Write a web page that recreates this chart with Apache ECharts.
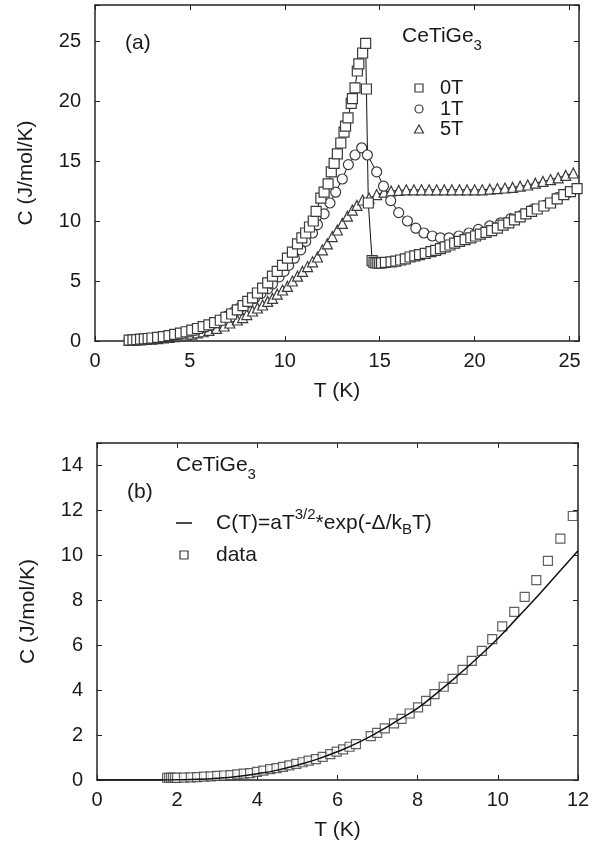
<!DOCTYPE html>
<html>
<head>
<meta charset="utf-8">
<script src="https://cdn.jsdelivr.net/npm/echarts@6/dist/echarts.min.js"></script>
<style>
  html, body { margin: 0; padding: 0; background: #fff; }
  #chart { width: 596px; height: 847px; }
</style>
</head>
<body>
<div id="chart"></div>
<script>
// ---- panel (a): C(T) at 0T / 1T / 5T ----
var t0T = [1.8, 2.0, 2.2, 2.4, 2.6, 2.8, 3.0, 3.3, 3.6, 3.9, 4.2, 4.5, 4.8, 5.1, 5.4, 5.7, 6.0, 6.3, 6.6, 6.9,
  7.2, 7.5, 7.8, 8.05, 8.3, 8.56, 8.83, 9.1, 9.35, 9.6, 9.88, 10.14, 10.4, 10.67, 10.9, 11.1, 11.3, 11.5, 11.65,
  11.9, 12.07, 12.28, 12.45, 12.6, 12.77, 12.95, 13.12, 13.2, 13.33, 13.5, 13.56, 13.7, 13.82, 13.9, 14.1, 14.26,
  14.3, 14.4, 14.6, 14.7, 14.8, 14.9, 15.0, 15.1, 15.3, 15.6, 15.85, 16.1, 16.35, 16.6, 16.85, 17.1, 17.4, 17.7,
  17.95, 18.2, 18.45, 18.7, 18.95, 19.2, 19.5, 19.8, 20.05, 20.3, 20.6, 20.9, 21.2, 21.5, 21.8, 22.1, 22.4, 22.7,
  23.0, 23.3, 23.65, 24.0, 24.35, 24.7, 25.05, 25.4];
var c0T = [0.08, 0.1, 0.12, 0.15, 0.18, 0.21, 0.25, 0.3, 0.37, 0.45, 0.55, 0.65, 0.77, 0.9, 1.04, 1.19, 1.35, 1.53,
  1.73, 1.98, 2.25, 2.6, 2.95, 3.3, 3.6, 4.0, 4.4, 4.85, 5.4, 5.8, 6.3, 6.9, 7.4, 8.1, 8.6, 9.0, 9.5, 10.0, 10.8,
  11.9, 12.4, 13.1, 14.1, 14.8, 15.6, 16.5, 17.4, 17.9, 18.6, 19.8, 20.2, 21.1, 22.5, 23.1, 24.0, 24.8,
  21.0, 11.5, 6.7, 6.55, 6.5, 6.5, 6.5, 6.5, 6.55, 6.6, 6.65, 6.75, 6.85, 7.0, 7.1, 7.2, 7.3, 7.45,
  7.55, 7.7, 7.85, 8.0, 8.15, 8.3, 8.45, 8.6, 8.75, 8.9, 9.05, 9.2, 9.4, 9.65, 9.85, 10.1, 10.35, 10.6,
  10.8, 11.0, 11.25, 11.5, 11.85, 12.2, 12.45, 12.7];

var t1T = [1.8, 2.1, 2.4, 2.7, 3.0, 3.3, 3.6, 3.9, 4.2, 4.5, 4.8, 5.1, 5.4, 5.7, 6.0, 6.3, 6.6, 6.9, 7.3, 7.65,
  8.0, 8.4, 8.74, 9.1, 9.35, 9.7, 9.96, 10.2, 10.5, 10.84, 11.1, 11.46, 11.72, 12.07, 12.38, 12.68, 13.03, 13.35,
  13.7, 14.05, 14.35, 14.84, 15.2, 15.58, 16.0, 16.46, 16.9, 17.33, 17.77, 18.2, 18.65, 19.17, 19.7, 20.2, 20.8,
  21.37, 21.9, 22.5, 23.1, 23.7, 24.35, 24.96];
var c1T = [0.07, 0.1, 0.13, 0.17, 0.22, 0.28, 0.34, 0.42, 0.5, 0.6, 0.72, 0.85, 0.99, 1.14, 1.3, 1.5, 1.75, 2.05,
  2.4, 2.8, 3.15, 3.55, 3.95, 4.35, 4.75, 5.35, 5.8, 6.3, 6.9, 7.6, 8.3, 9.0, 9.7, 10.6, 11.5, 12.4, 13.5, 14.7,
  15.5, 16.1, 15.5, 14.1, 12.9, 11.7, 10.7, 10.0, 9.4, 9.0, 8.75, 8.6, 8.6, 8.75, 9.0, 9.3, 9.6,
  9.85, 10.2, 10.5, 11.0, 11.3, 11.95, 12.4];

var t5T = [1.8, 2.1, 2.4, 2.7, 3.0, 3.3, 3.6, 3.9, 4.2, 4.5, 4.8, 5.1, 5.4, 5.7, 6.0, 6.4, 6.8, 7.1, 7.5, 7.78,
  8.0, 8.3, 8.56, 8.83, 9.1, 9.35, 9.6, 9.88, 10.14, 10.4, 10.67, 10.93, 11.2, 11.46, 11.72, 11.98, 12.24, 12.5,
  12.77, 13.03, 13.3, 13.56, 13.8, 14.1, 14.44, 14.84, 15.23, 15.6, 16.0, 16.4, 16.8, 17.2, 17.6, 18.0, 18.4,
  18.8, 19.2, 19.6, 20.0, 20.4, 20.8, 21.2, 21.6, 22.0, 22.4, 22.8, 23.2, 23.6, 24.0, 24.4, 24.8, 25.2];
var c5T = [0.05, 0.07, 0.1, 0.13, 0.16, 0.2, 0.25, 0.3, 0.36, 0.43, 0.5, 0.58, 0.67, 0.77, 0.88, 1.05, 1.25, 1.5,
  1.75, 1.95, 2.2, 2.5, 2.75, 3.0, 3.3, 3.55, 3.9, 4.25, 4.55, 5.0, 5.4, 5.8, 6.2, 6.6, 7.0, 7.6, 8.1, 8.7,
  9.25, 9.8, 10.4, 10.9, 11.3, 11.75, 11.9, 12.2, 12.4, 12.5, 12.55, 12.6, 12.6, 12.6, 12.6, 12.6, 12.6,
  12.6, 12.6, 12.6, 12.6, 12.6, 12.65, 12.7, 12.75, 12.8, 12.9, 13.0, 13.15, 13.3, 13.45, 13.6, 13.8, 14.0];

// ---- panel (b): low-T data and the gap fit ----
var tData = [1.75, 1.8, 1.85, 1.9, 1.95, 2.0, 2.17, 2.34, 2.5, 2.67, 2.84, 3.0, 3.17, 3.33, 3.5, 3.66, 3.82, 3.99,
  4.15, 4.32, 4.48, 4.64, 4.8, 4.97, 5.13, 5.28, 5.46, 5.63, 5.82, 5.98, 6.14, 6.3, 6.46, 6.83, 6.99, 7.18, 7.41,
  7.6, 7.8, 8.01, 8.21, 8.42, 8.65, 8.87, 9.12, 9.35, 9.6, 9.86, 10.11, 10.41, 10.67, 10.96, 11.25, 11.56, 11.87];
var cData = [0.1, 0.1, 0.1, 0.1, 0.1, 0.1, 0.11, 0.12, 0.13, 0.15, 0.16, 0.18, 0.2, 0.22, 0.25, 0.28, 0.31, 0.36,
  0.42, 0.48, 0.53, 0.58, 0.65, 0.72, 0.79, 0.86, 0.93, 1.03, 1.15, 1.26, 1.36, 1.48, 1.6, 1.95, 2.1, 2.3, 2.52,
  2.72, 2.96, 3.23, 3.52, 3.82, 4.15, 4.5, 4.9, 5.3, 5.75, 6.27, 6.84, 7.48, 8.15, 8.9, 9.75, 10.74, 11.75];

var tFit = [0, 0.5, 1.5, 2.0, 2.5, 3.0, 3.5, 4.0, 4.5, 5.0, 5.5, 6.0, 6.5, 7.0, 7.5, 8.0, 8.5, 9.0, 9.5, 10.0,
  10.5, 11.0, 11.5, 12.0];
var cFit = [0, 0, 0, 0.01, 0.03, 0.08, 0.16, 0.28, 0.44, 0.66, 0.93, 1.26, 1.65, 2.12, 2.65, 3.2, 3.9, 4.65, 5.45,
  6.3, 7.25, 8.2, 9.2, 10.2];

var FONT = '"Liberation Sans", Arial, Helvetica, sans-serif';
var INK = '#1a1a1a';
var EDGE = '#3a3a3a';

function pairs(xs, ys) {
  return xs.map(function (x, i) { return [x, ys[i]]; });
}

// text with sub/superscripts: runs = [text, size, dy]
function runText(x, y, runs) {
  var ctx = document.createElement('canvas').getContext('2d');
  var out = [];
  runs.forEach(function (r) {
    ctx.font = r[1] + 'px ' + FONT;
    out.push({
      type: 'text', x: x, y: y + r[2], silent: true,
      style: { text: r[0], fontSize: r[1], fontFamily: FONT, fill: INK, align: 'left', verticalAlign: 'middle' }
    });
    x += ctx.measureText(r[0]).width;
  });
  return out;
}

function xAx(grid, max, step, pos) {
  var top = pos === 'top';
  return {
    type: 'value', gridIndex: grid, min: 0, max: max, interval: step, position: pos,
    name: top ? '' : 'T (K)', nameLocation: 'middle', nameGap: 40,
    nameTextStyle: { fontSize: 21, fontFamily: FONT, color: INK },
    axisLine: { onZero: false, lineStyle: { color: '#222', width: 1.5 } },
    axisTick: { show: true, inside: true, length: 5, lineStyle: { color: '#222', width: 1 } },
    axisLabel: {
      show: !top, margin: 10, fontSize: 20, fontFamily: FONT, color: INK,
      formatter: function (v) { return v % step === 0 ? String(v) : ''; }
    },
    splitLine: { show: false }
  };
}

function yAx(grid, max, step, pos) {
  var right = pos === 'right';
  return {
    type: 'value', gridIndex: grid, min: 0, max: max, interval: step, position: pos,
    name: right ? '' : 'C (J/mol/K)', nameLocation: 'middle', nameGap: 58, nameRotate: 90,
    nameTextStyle: { fontSize: 21, fontFamily: FONT, color: INK },
    axisLine: { onZero: false, lineStyle: { color: '#222', width: 1.5 } },
    axisTick: { show: true, inside: true, length: 5, lineStyle: { color: '#222', width: 1 } },
    axisLabel: {
      show: !right, margin: 14, fontSize: 20, fontFamily: FONT, color: INK,
      formatter: function (v) { return v % step === 0 ? String(v) : ''; }
    },
    splitLine: { show: false }
  };
}

function markerSeries(name, sym, size, data, xi, yi, withLine) {
  return {
    name: name, type: withLine ? 'line' : 'scatter', data: data,
    xAxisIndex: xi, yAxisIndex: yi,
    symbol: sym, symbolSize: size, showSymbol: true, animation: false,
    itemStyle: { color: '#fff', borderColor: EDGE, borderWidth: 1.2 },
    lineStyle: { color: '#111', width: 1 },
    emphasis: { disabled: true }
  };
}

var graphics = []
  .concat(runText(125, 43, [['(a)', 21, 0]]))
  .concat(runText(402, 36, [['CeTiGe', 21, 0], ['3', 15, 10]]))
  .concat(runText(440, 88, [['0T', 20, 0]]))
  .concat(runText(440, 109, [['1T', 20, 0]]))
  .concat(runText(440, 129, [['5T', 20, 0]]))
  .concat(runText(176, 465, [['CeTiGe', 21, 0], ['3', 15, 10]]))
  .concat(runText(127, 492, [['(b)', 21, 0]]))
  .concat(runText(216, 523, [['C(T)=aT', 21, 0], ['3/2', 15, -8], ['*exp(-\u0394/k', 21, 0], ['B', 15, 7], ['T)', 21, 0]]))
  .concat(runText(216, 555, [['data', 21, 0]]));

// legend keys
var keyStyle = { fill: '#fff', stroke: EDGE, lineWidth: 1.2 };
graphics.push(
  { type: 'rect', shape: { x: 415, y: 84, width: 8, height: 8 }, style: keyStyle, silent: true },
  { type: 'circle', shape: { cx: 419, cy: 109, r: 4 }, style: keyStyle, silent: true },
  { type: 'polygon', shape: { points: [[414.5, 133], [423.5, 133], [419, 125]] }, style: keyStyle, silent: true },
  { type: 'line', shape: { x1: 176, y1: 523, x2: 192, y2: 523 }, style: { stroke: '#111', lineWidth: 1.5 }, silent: true },
  { type: 'rect', shape: { x: 180, y: 551, width: 8, height: 8 }, style: keyStyle, silent: true }
);

var chart = echarts.init(document.getElementById('chart'), null, { renderer: 'canvas' });
var option = {
  backgroundColor: '#fff',
  animation: false,
  grid: [
    { left: 95, top: 5, width: 484, height: 336, containLabel: false },
    { left: 97, top: 443, width: 481, height: 337, containLabel: false }
  ],
  xAxis: [
    xAx(0, 25.5, 5, 'bottom'), xAx(0, 25.5, 5, 'top'),
    xAx(1, 12, 2, 'bottom'), xAx(1, 12, 2, 'top')
  ],
  yAxis: [
    yAx(0, 28, 5, 'left'), yAx(0, 28, 5, 'right'),
    yAx(1, 15, 2, 'left'), yAx(1, 15, 2, 'right')
  ],
  series: [
    markerSeries('5T', 'triangle', 10, pairs(t5T, c5T), 0, 0, true),
    markerSeries('1T', 'circle', 10, pairs(t1T, c1T), 0, 0, true),
    markerSeries('0T', 'rect', 10, pairs(t0T, c0T), 0, 0, true),
    {
      name: 'fit', type: 'line', data: pairs(tFit, cFit), xAxisIndex: 2, yAxisIndex: 2,
      showSymbol: false, symbol: 'none', smooth: true, animation: false,
      lineStyle: { color: '#111', width: 1.5 }
    },
    markerSeries('data', 'rect', 9, pairs(tData, cData), 2, 2, false)
  ],
  graphic: graphics
};
chart.setOption(option);
</script>
</body>
</html>
